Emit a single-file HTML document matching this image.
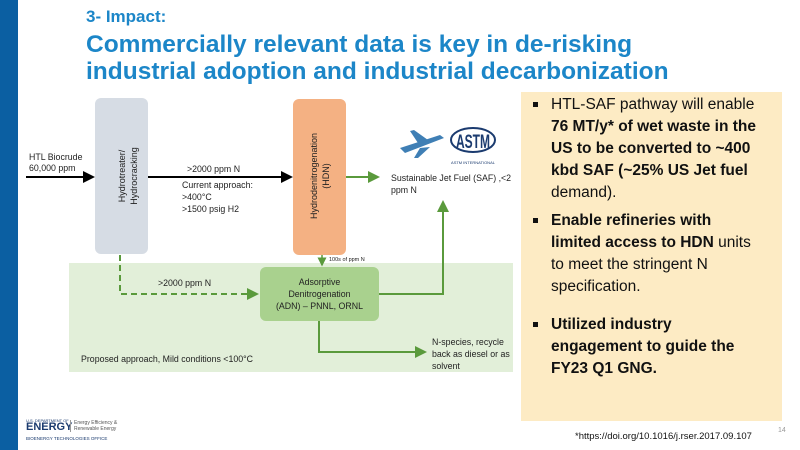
<!DOCTYPE html>
<html><head><meta charset="utf-8"><style>
body{margin:0;width:800px;height:450px;background:#fff;position:relative;overflow:hidden;font-family:"Liberation Sans",sans-serif}
.a{position:absolute}
.t{color:#1c86c8;font-weight:bold;left:86px;white-space:nowrap}
.d{font-family:"Liberation Sans",sans-serif;font-size:8.8px;color:#222;position:absolute;white-space:nowrap;line-height:11px}
.yb{left:521px;top:92px;width:261px;height:329px;background:#fdebc4}
.yb p{margin:0;position:absolute;left:30px;font-size:15.5px;line-height:22px;color:#111;width:222px}
.yb p:before{content:"";position:absolute;left:-18px;top:8px;width:5px;height:5px;background:#111}
</style></head><body>
<div class="a" style="left:0;top:0;width:18px;height:450px;background:#0b5fa2"></div>
<div class="a t" style="top:7px;font-size:17px">3- Impact:</div>
<div class="a t" style="top:31px;font-size:24.5px;line-height:27px">Commercially relevant data is key in de-risking<br>industrial adoption and industrial decarbonization</div>

<div class="a" style="left:69px;top:263px;width:444px;height:109px;background:#e2efd9"></div>
<div class="a" style="left:95px;top:98px;width:53px;height:156px;background:#d6dce4;border-radius:6px"></div>
<div class="a" style="left:293px;top:99px;width:53px;height:156px;background:#f4b183;border-radius:6px"></div>
<div class="a" style="left:260px;top:267px;width:119px;height:54px;background:#a9d18e;border-radius:6px"></div>

<svg class="a" style="left:0;top:0" width="800" height="450">
<defs>
<marker id="k" markerWidth="6" markerHeight="6" refX="5" refY="3" orient="auto"><path d="M0,0L6,3L0,6z" fill="#000"/></marker>
<marker id="g" markerWidth="6" markerHeight="6" refX="5" refY="3" orient="auto"><path d="M0,0L6,3L0,6z" fill="#5a9a3c"/></marker>
</defs>
<g stroke="#000" stroke-width="2" fill="none">
<line x1="26" y1="177" x2="93" y2="177" marker-end="url(#k)"/>
<line x1="148" y1="177" x2="291" y2="177" marker-end="url(#k)"/>
</g>
<g stroke="#5a9a3c" stroke-width="2" fill="none">
<line x1="346" y1="177" x2="378" y2="177" marker-end="url(#g)"/>
<line x1="322" y1="255" x2="322" y2="265" stroke-width="1.5" marker-end="url(#g)"/>
<polyline points="120,255 120,294 257,294" stroke-dasharray="6,4" marker-end="url(#g)"/>
<polyline points="379,294 443,294 443,202" marker-end="url(#g)"/>
<polyline points="319,321 319,352 425,352" marker-end="url(#g)"/>
</g>
<path d="M400,148 L440,135 L444,138 L405,153 Z M418,143 L410,131 L414,130 L428,140 Z M420,148 L414,158 L418,158 L430,147Z" fill="#3f7fb5"/>
<ellipse cx="473" cy="140" rx="22" ry="12" fill="none" stroke="#1b3b6f" stroke-width="2"/>
<text x="473" y="148" font-family="Liberation Sans" font-weight="bold" font-size="19" fill="#1b3b6f" text-anchor="middle" textLength="34" lengthAdjust="spacingAndGlyphs">ASTM</text>
<text x="473" y="164" font-family="Liberation Sans" font-size="4" fill="#1b3b6f" text-anchor="middle">ASTM INTERNATIONAL</text>
<text transform="translate(125,176) rotate(-90)" font-family="Liberation Sans" font-size="9" fill="#222" text-anchor="middle">Hydrotreater/</text>
<text transform="translate(137,176) rotate(-90)" font-family="Liberation Sans" font-size="9" fill="#222" text-anchor="middle">Hydrocracking</text>
<text transform="translate(317,176) rotate(-90)" font-family="Liberation Sans" font-size="9" fill="#222" text-anchor="middle">Hydrodenitrogenation</text>
<text transform="translate(329,176) rotate(-90)" font-family="Liberation Sans" font-size="9" fill="#222" text-anchor="middle">(HDN)</text>
</svg>

<div class="d" style="left:29px;top:152px">HTL Biocrude<br>60,000 ppm</div>
<div class="d" style="left:187px;top:164px">&gt;2000 ppm N</div>
<div class="d" style="left:182px;top:179px;line-height:12px">Current approach:<br>&gt;400°C<br>&gt;1500 psig H2</div>
<div class="d" style="left:391px;top:172px;line-height:12px">Sustainable Jet Fuel (SAF) ,&lt;2<br>ppm N</div>
<div class="d" style="left:329px;top:255px;font-size:5.5px">100s of ppm N</div>
<div class="d" style="left:158px;top:278px">&gt;2000 ppm N</div>
<div class="d" style="left:260px;top:276px;width:119px;text-align:center;line-height:12px">Adsorptive<br>Denitrogenation<br>(ADN) – PNNL, ORNL</div>
<div class="d" style="left:432px;top:336px;line-height:12px">N-species, recycle<br>back as diesel or as<br>solvent</div>
<div class="d" style="left:81px;top:354px">Proposed approach, Mild conditions &lt;100°C</div>

<div class="a yb">
<p style="top:2px">HTL-SAF pathway will enable<br><b>76 MT/y* of wet waste in the<br>US to be converted to ~400<br>kbd SAF (~25% US Jet fuel</b><br>demand).</p>
<p style="top:118px"><b>Enable refineries with<br>limited access to HDN</b> units<br>to meet the stringent N<br>specification.</p>
<p style="top:222px"><b>Utilized industry<br>engagement to guide the<br>FY23 Q1 GNG.</b></p>
</div>

<div class="a" style="left:26px;top:418px;font-size:4px;color:#1b3b6f">U.S. DEPARTMENT OF</div>
<div class="a" style="left:26px;top:421px;font-size:11px;font-weight:bold;color:#1b3b6f">ENERGY</div>
<div class="a" style="left:70px;top:420px;font-size:5px;color:#555;line-height:6px;border-left:1px solid #999;padding-left:3px">Energy Efficiency &amp;<br>Renewable Energy</div>
<div class="a" style="left:26px;top:436px;font-size:4.5px;color:#1b3b6f">BIOENERGY TECHNOLOGIES OFFICE</div>
<div class="a" style="left:575px;top:431px;font-size:9.5px;color:#111">*https://doi.org/10.1016/j.rser.2017.09.107</div>
<div class="a" style="left:778px;top:427px;font-size:7px;color:#999">14</div>
</body></html>
